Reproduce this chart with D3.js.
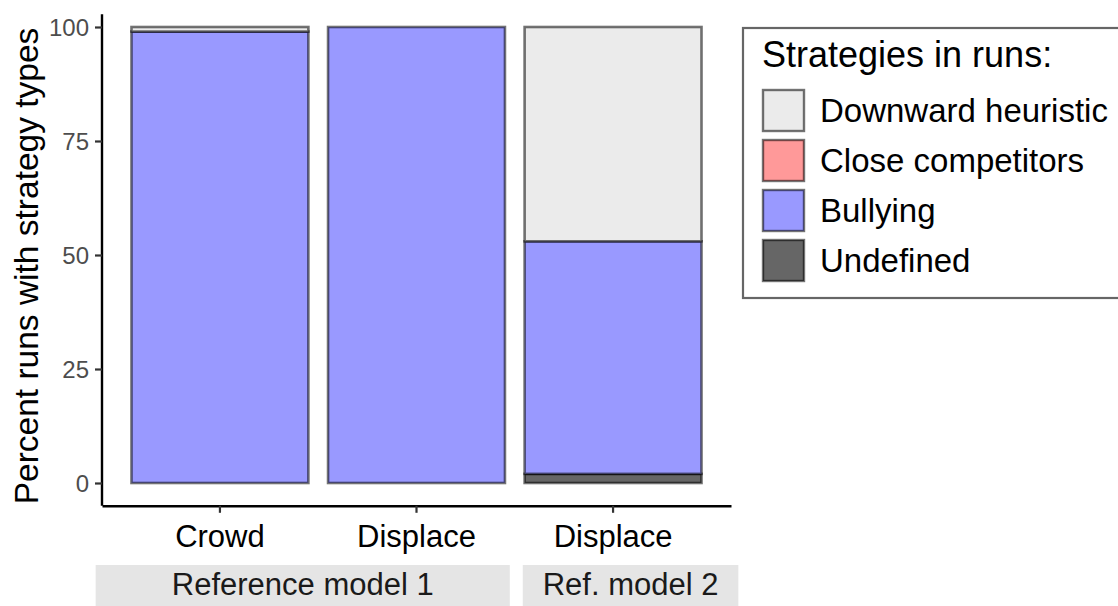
<!DOCTYPE html>
<html>
<head>
<meta charset="utf-8">
<script src="https://cdn.jsdelivr.net/npm/d3@7"></script>
<style>
  html, body { margin: 0; padding: 0; background: #fff; }
  svg { display: block; font-family: "Liberation Sans", Arial, sans-serif; }
</style>
</head>
<body>
<svg id="chart" width="1118" height="606"></svg>
<script>
// ---- data ----
const categories = ["Crowd", "Displace", "Displace (2)"];
const categoryLabels = ["Crowd", "Displace", "Displace"];
const strategies = ["Downward heuristic", "Close competitors", "Bullying", "Undefined"];
const undefinedVals = [0, 0, 2];
const bullyingVals = [99, 100, 51];
const closeVals = [0, 0, 0];
const downwardVals = [1, 0, 47];
const yTicks = [0, 25, 50, 75, 100];
const stripLabels = ["Reference model 1", "Ref. model 2"];
const colors = ["#ebebeb", "#ff9999", "#9999ff", "#666666"];

// ---- build stacked table ----
const rows = categories.map((c, i) => ({
  cat: c,
  "Undefined": undefinedVals[i],
  "Bullying": bullyingVals[i],
  "Close competitors": closeVals[i],
  "Downward heuristic": downwardVals[i]
}));
const stackKeys = strategies.slice().reverse();
const series = d3.stack().keys(stackKeys)(rows);
const color = d3.scaleOrdinal().domain(strategies).range(colors);

const svg = d3.select("#chart");

const x = d3.scaleBand().domain(categories).range([102, 731])
  .paddingInner(0.1).paddingOuter(0.15);
const y = d3.scaleLinear().domain([0, 100]).range([483, 27]);

// bars
const g = svg.append("g");
series.forEach(s => {
  g.selectAll(null).data(s).enter().append("rect")
    .attr("x", d => x(d.data.cat))
    .attr("width", x.bandwidth())
    .attr("y", d => y(d[1]))
    .attr("height", d => y(d[0]) - y(d[1]))
    .attr("fill", color(s.key))
    .attr("stroke", "rgba(0,0,0,0.55)")
    .attr("stroke-width", 2.6);
});

// y axis
const yAxis = svg.append("g").attr("transform", "translate(102,0)")
  .call(d3.axisLeft(y).tickValues(yTicks).tickSize(7).tickPadding(6).tickSizeOuter(0));
yAxis.select(".domain").attr("d", `M0,${y(102.8)}V${y(-5)}`).attr("stroke", "#000").attr("stroke-width", 2.4);
yAxis.selectAll(".tick line").attr("stroke", "#333").attr("stroke-width", 2.2);
yAxis.selectAll(".tick text").attr("fill", "#4d4d4d").style("font-size", "24px").attr("dy", "0.36em");

// x axis
const xAxis = svg.append("g").attr("transform", `translate(0,${y(-5)})`)
  .call(d3.axisBottom(x).tickSize(7).tickPadding(12).tickSizeOuter(0)
    .tickFormat((d, i) => categoryLabels[i]));
xAxis.select(".domain").attr("stroke", "#000").attr("stroke-width", 2.4);
xAxis.selectAll(".tick line").attr("stroke", "#333").attr("stroke-width", 2.2);
xAxis.selectAll(".tick text").attr("fill", "#000").style("font-size", "31px");

// strips
const stripGroups = [
  { label: stripLabels[0], cats: [categories[0], categories[1]], pad: [-26, -5] },
  { label: stripLabels[1], cats: [categories[2]], pad: [8, 27] }
];
const step = x.step();
stripGroups.forEach(sg => {
  const x0 = x(sg.cats[0]) + x.bandwidth() / 2 - step / 2 + sg.pad[0];
  const x1 = x(sg.cats[sg.cats.length - 1]) + x.bandwidth() / 2 + step / 2 + sg.pad[1];
  svg.append("rect").attr("x", x0).attr("y", 565).attr("width", x1 - x0).attr("height", 41)
    .attr("fill", "#e5e5e5");
  svg.append("text").attr("x", (x0 + x1) / 2).attr("y", 595).attr("text-anchor", "middle")
    .style("font-size", "31px").attr("fill", "#1a1a1a").text(sg.label);
});

// y axis title
svg.append("text")
  .attr("transform", `translate(38,${(y(0) + y(100)) / 2 + 11}) rotate(-90)`)
  .attr("text-anchor", "middle").style("font-size", "33.5px").attr("fill", "#000")
  .text("Percent runs with strategy types");

// legend
const lg = svg.append("g");
lg.append("rect").attr("x", 743).attr("y", 28).attr("width", 390).attr("height", 270)
  .attr("fill", "#fff").attr("stroke", "#666").attr("stroke-width", 2.2);
lg.append("text").attr("x", 762).attr("y", 67).style("font-size", "36px").attr("fill", "#000")
  .text("Strategies in runs:");
strategies.forEach((s, i) => {
  const ky = 90 + i * 50;
  lg.append("rect").attr("x", 763).attr("y", ky).attr("width", 41).attr("height", 41)
    .attr("fill", color(s)).attr("stroke", "rgba(0,0,0,0.55)").attr("stroke-width", 2.4);
  lg.append("text").attr("x", 820).attr("y", ky + 32).style("font-size", "33px").attr("fill", "#000")
    .text(s);
});
</script>
</body>
</html>
